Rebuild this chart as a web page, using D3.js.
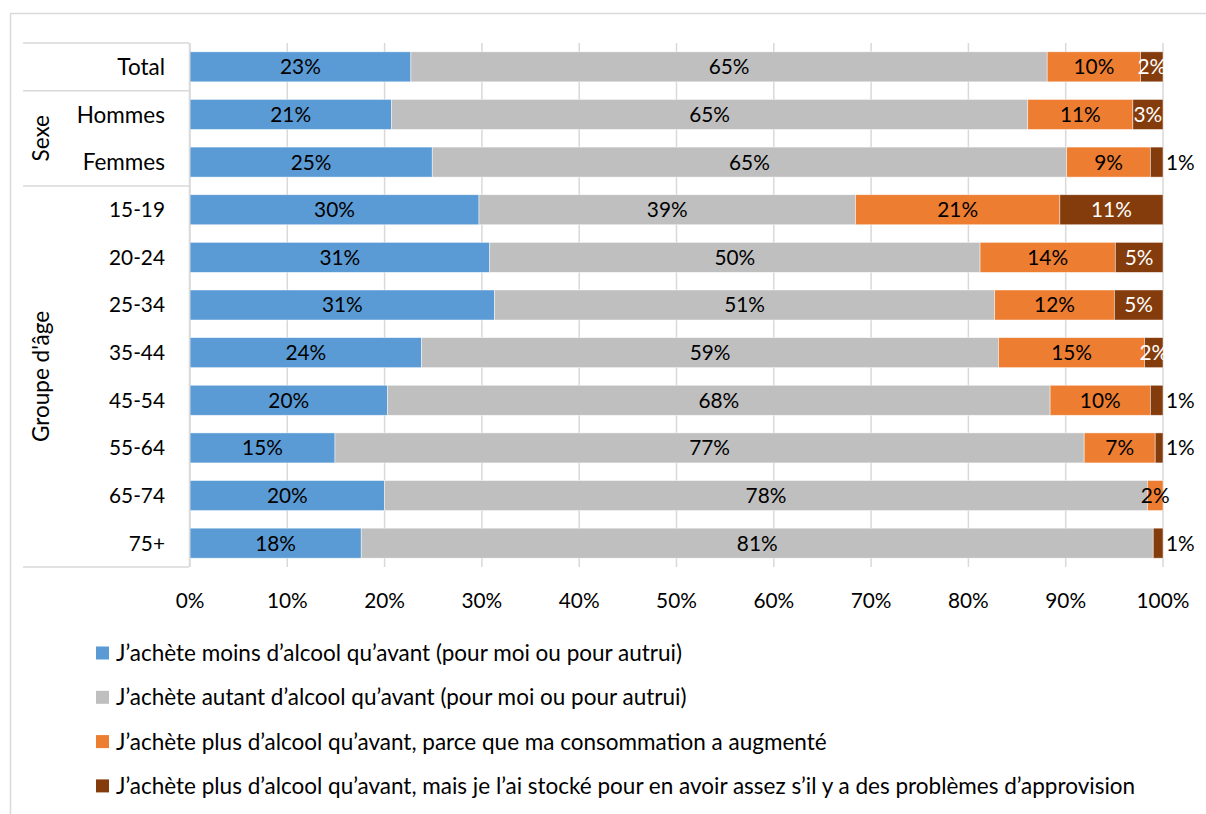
<!DOCTYPE html>
<html>
<head>
<meta charset="utf-8">
<script src="https://cdn.jsdelivr.net/npm/d3@7"></script>
<style>
  body { margin: 0; background: #fff; }
  svg { font-family: Lato, "Open Sans", sans-serif; }
</style>
</head>
<body>
<svg id="chart" width="1206" height="814"></svg>
<script>
// categories (top to bottom) and their group
const categories = ["Total", "Hommes", "Femmes", "15-19", "20-24", "25-34", "35-44", "45-54", "55-64", "65-74", "75+"];
const groups = [
  {name: "", first: "Total", last: "Total"},
  {name: "Sexe", first: "Hommes", last: "Femmes"},
  {name: "Groupe d'âge", first: "15-19", last: "75+"}
];

// series values, in % of respondents
const moins   = [22.7, 20.7, 24.9, 29.7, 30.8, 31.3, 23.8, 20.3, 14.9, 20.0, 17.6];
const autant  = [65.4, 65.4, 65.2, 38.7, 50.4, 51.4, 59.3, 68.1, 77.0, 78.4, 81.4];
const plusConso = [9.6, 10.8, 8.6, 21.0, 13.9, 12.3, 15.0, 10.3, 7.3, 1.6, 0];
const plusStock = [2.3, 3.1, 1.3, 10.6, 4.9, 5.0, 1.9, 1.3, 0.8, 0, 1.0];

const seriesNames = [
  "J\u2019achète moins d\u2019alcool qu\u2019avant (pour moi ou pour autrui)",
  "J\u2019achète autant d\u2019alcool qu\u2019avant (pour moi ou pour autrui)",
  "J\u2019achète plus d\u2019alcool qu\u2019avant, parce que ma consommation a augmenté",
  "J\u2019achète plus d\u2019alcool qu\u2019avant, mais je l\u2019ai stocké pour en avoir assez s\u2019il y a des problèmes d\u2019approvision"
];
const xTicks = [0, 10, 20, 30, 40, 50, 60, 70, 80, 90, 100];

const colors = ["#5b9bd5", "#bfbfbf", "#ed7d31", "#843c0c"];
const labelColors = ["#000", "#000", "#000", "#fff"];

const svg = d3.select("#chart");
// Lato digits run wider than Calibri's, so numbers get a smaller size than words
const numSize = 20.8;
const textSize = 22.5;

// chart frame
svg.append("path")
  .attr("d", "M10.5,814 V13.5 H1206")
  .attr("fill", "none")
  .attr("stroke", "#d9d9d9")
  .attr("stroke-width", 1.5);

const x = d3.scaleLinear().domain([0, 100]).range([190, 1163]);
const y = d3.scaleBand().domain(categories).range([43, 567]).paddingInner(0.37).paddingOuter(0.185);

// gridlines
svg.append("g")
  .selectAll("line")
  .data(xTicks)
  .join("line")
    .attr("x1", d => x(d)).attr("x2", d => x(d))
    .attr("y1", 43).attr("y2", 567)
    .attr("stroke", "#d9d9d9")
    .attr("stroke-width", 1.5);

// x tick labels
svg.append("g")
  .selectAll("text")
  .data(xTicks)
  .join("text")
    .attr("x", d => x(d))
    .attr("y", 608)
    .attr("text-anchor", "middle")
    .attr("font-size", numSize)
    .attr("fill", "#000")
    .text(d => d + "%");

// stacked data
const rows = categories.map((c, i) => ({cat: c, s0: moins[i], s1: autant[i], s2: plusConso[i], s3: plusStock[i]}));
const keys = ["s0", "s1", "s2", "s3"];
const stacked = d3.stack().keys(keys)(rows);

const layers = svg.append("g")
  .selectAll("g")
  .data(stacked)
  .join("g")
    .attr("fill", (d, i) => colors[i]);

layers.selectAll("rect")
  .data(d => d.filter(p => p[1] - p[0] > 0))
  .join("rect")
    .attr("x", d => x(d[0]))
    .attr("width", d => x(d[1]) - x(d[0]))
    .attr("y", d => y(d.data.cat))
    .attr("height", y.bandwidth())
    .attr("stroke", "#fff")
    .attr("stroke-opacity", 0.6)
    .attr("stroke-width", 0.75);

// data labels
stacked.forEach((layer, i) => {
  const outside = d => i === 3 && d[1] - d[0] < 1.5;
  svg.append("g")
    .selectAll("text")
    .data(layer.filter(p => p[1] - p[0] > 0))
    .join("text")
      .attr("x", d => outside(d) ? x(100) + 3 : x((d[0] + d[1]) / 2))
      .attr("y", d => y(d.data.cat) + y.bandwidth() / 2)
      .attr("dy", "0.36em")
      .attr("text-anchor", d => outside(d) ? "start" : "middle")
      .attr("font-size", numSize)
      .attr("fill", d => outside(d) ? "#000" : labelColors[i])
      .text(d => Math.round(d[1] - d[0]) + "%");
});

// category axis (multi-level, Excel style)
const axisG = svg.append("g");
axisG.append("line")
  .attr("x1", 189.5).attr("x2", 189.5)
  .attr("y1", 43).attr("y2", 567)
  .attr("stroke", "#d9d9d9").attr("stroke-width", 1.5);

const step = y.step();
const bandTop = c => y(c) - y.paddingInner() * step / 2;
const seps = groups.map(g => bandTop(g.first)).concat([567]);
axisG.selectAll(".sep")
  .data(seps)
  .join("line")
    .attr("x1", 23).attr("x2", 189)
    .attr("y1", d => d).attr("y2", d => d)
    .attr("stroke", "#d9d9d9").attr("stroke-width", 1.5);

axisG.selectAll(".cat")
  .data(categories)
  .join("text")
    .attr("x", 165)
    .attr("y", d => y(d) + y.bandwidth() / 2)
    .attr("dy", "0.36em")
    .attr("text-anchor", "end")
    .attr("font-size", d => /^\d/.test(d) ? numSize : textSize)
    .text(d => d);

groups.filter(g => g.name).forEach(g => {
  const top = bandTop(g.first);
  const bottom = bandTop(g.last) + step;
  const cy = (top + bottom) / 2;
  axisG.append("text")
    .attr("transform", `translate(49,${cy}) rotate(-90)`)
    .attr("text-anchor", "middle")
    .attr("font-size", textSize)
    .text(g.name);
});

// legend
const legend = svg.append("g")
  .selectAll("g")
  .data(seriesNames)
  .join("g")
    .attr("transform", (d, i) => `translate(96,${653 + i * 44.3})`);

legend.append("rect")
  .attr("x", 0).attr("y", -6.5)
  .attr("width", 13).attr("height", 13)
  .attr("fill", (d, i) => colors[i]);

legend.append("text")
  .attr("x", 20)
  .attr("dy", "0.36em")
  .attr("font-size", textSize)
  .text(d => d);
</script>
</body>
</html>
